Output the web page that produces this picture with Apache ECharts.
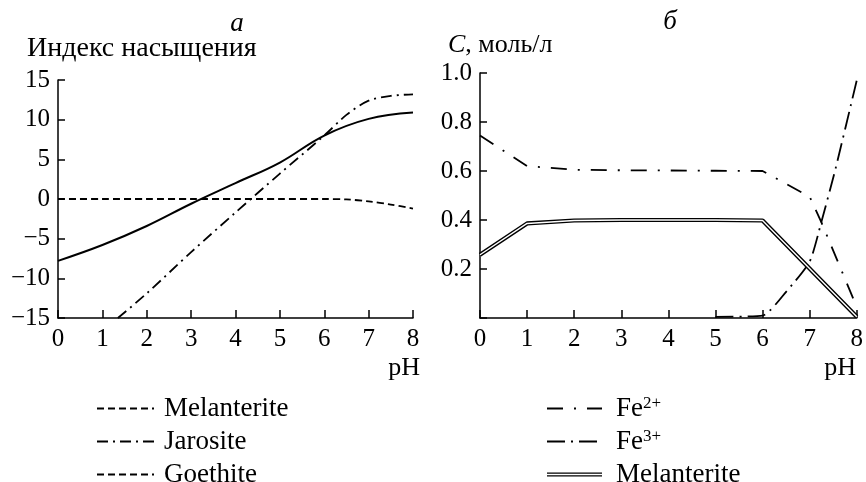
<!DOCTYPE html>
<html>
<head>
<meta charset="utf-8">
<script src="https://cdn.jsdelivr.net/npm/echarts@6/dist/echarts.min.js"></script>
<style>
  html, body { margin: 0; padding: 0; background: #fff; }
  #chart { width: 866px; height: 482px; }
</style>
</head>
<body>
<div id="chart"></div>
<script>
// panel a: saturation index vs pH
var goethitePh = [0, 1, 2, 3, 4, 5, 6, 7, 8];
var goethiteSI = [-7.8, -5.8, -3.4, -0.6, 2.0, 4.6, 8.0, 10.1, 10.9];
var melanteritePh = [0, 1, 2, 3, 4, 5, 6, 6.5, 7, 7.5, 8];
var melanteriteSI = [0, 0, 0, 0, 0, 0, 0, -0.05, -0.3, -0.7, -1.2];
var jarositePh = [1.35, 2, 3, 4, 5, 6, 6.5, 7, 7.5, 8];
var jarositeSI = [-15, -11.9, -6.7, -1.7, 3.2, 8.0, 10.6, 12.4, 13.0, 13.2];

// panel б: concentration vs pH
var fe2Ph = [0, 1, 2, 3, 4, 5, 6, 7, 7.25, 8];
var fe2C = [0.745, 0.62, 0.605, 0.603, 0.602, 0.601, 0.6, 0.495, 0.39, 0.045];
var fe3Ph = [5, 6, 6.5, 7, 7.25, 7.55, 8];
var fe3C = [0.005, 0.01, 0.107, 0.23, 0.393, 0.61, 0.97];
var melPh = [0, 1, 2, 3, 4, 5, 6, 8];
var melC = [0.258, 0.386, 0.398, 0.4, 0.4, 0.4, 0.398, 0.005];

function pairs(xs, ys) {
  return xs.map(function (x, i) { return [x, ys[i]]; });
}

var FONT = 'Liberation Serif';
var chart = echarts.init(document.getElementById('chart'));

function xAxisFor(gridIndex) {
  return {
    type: 'value', gridIndex: gridIndex, min: 0, max: 8, interval: 1,
    axisLine: { onZero: false, lineStyle: { color: '#000', width: 1.5 } },
    axisTick: { inside: true, length: 8, lineStyle: { color: '#000', width: 1.5 } },
    axisLabel: { color: '#000', fontFamily: FONT, fontSize: 25, margin: 9 },
    splitLine: { show: false }
  };
}

var legendText = {
  color: '#000', fontFamily: FONT, fontSize: 27, lineHeight: 26,
  rich: { s: { fontFamily: FONT, fontSize: 17, lineHeight: 17, verticalAlign: 'top', color: '#000' } }
};

var option = {
  animation: false,
  backgroundColor: '#fff',
  grid: [
    { left: 58, top: 80, width: 355, height: 238 },
    { left: 480, top: 73, width: 378, height: 245 }
  ],
  xAxis: [xAxisFor(0), xAxisFor(1)],
  yAxis: [
    {
      type: 'value', gridIndex: 0, min: -15, max: 15, interval: 5,
      axisLine: { show: true, onZero: false, lineStyle: { color: '#000', width: 1.5 } },
      axisTick: { show: true, inside: true, length: 7, lineStyle: { color: '#000', width: 1.5 } },
      axisLabel: {
        color: '#000', fontFamily: FONT, fontSize: 25, margin: 8,
        formatter: function (v) { return v < 0 ? '\u2212' + Math.abs(v) : String(v); }
      },
      splitLine: { show: false }
    },
    {
      type: 'value', gridIndex: 1, min: 0, max: 1, interval: 0.2,
      axisLine: { show: true, onZero: false, lineStyle: { color: '#000', width: 1.5 } },
      axisTick: { show: true, inside: true, length: 7, lineStyle: { color: '#000', width: 1.5 } },
      axisLabel: {
        color: '#000', fontFamily: FONT, fontSize: 25, margin: 8,
        formatter: function (v) { return v === 0 ? '' : v.toFixed(1); }
      },
      splitLine: { show: false }
    }
  ],
  legend: [
    {
      orient: 'vertical', left: 96, top: 395, height: 120, padding: 0, itemGap: 6,
      itemWidth: 57, itemHeight: 4, selectedMode: false,
      itemStyle: { opacity: 0 },
      textStyle: Object.assign({ padding: [0, 0, 0, 5] }, legendText),
      data: [
        { name: 'Melanterite' },
        { name: 'Jarosite' },
        { name: 'Goethite', lineStyle: { type: [7, 4], width: 1.8 } }
      ]
    },
    {
      orient: 'vertical', left: 546, top: 395, height: 120, padding: 0, itemGap: 6,
      itemWidth: 55, itemHeight: 4, selectedMode: false,
      itemStyle: { opacity: 0 },
      textStyle: Object.assign({ padding: [0, 0, 0, 9] }, legendText),
      formatter: function (name) {
        if (name === 'Fe2+') return 'Fe{s|2+}';
        if (name === 'Fe3+') return 'Fe{s|3+}';
        return 'Melanterite';
      },
      data: [
        { name: 'Fe2+' },
        { name: 'Fe3+' },
        {
          name: 'Melanterite б',
          icon: 'path://M0,0H55V1.3H0Z M0,2.7H55V4H0Z',
          itemStyle: { opacity: 1, color: '#000', borderWidth: 0 }
        }
      ]
    }
  ],
  graphic: [
    { type: 'text', x: 237, y: 24, style: { text: 'а', font: 'italic 27px ' + FONT, fill: '#000', align: 'center', verticalAlign: 'middle' } },
    { type: 'text', x: 670, y: 22, style: { text: 'б', font: 'italic 27px ' + FONT, fill: '#000', align: 'center', verticalAlign: 'middle' } },
    { type: 'text', x: 27, y: 49, style: { text: 'Индекс насыщения', font: '28px ' + FONT, fill: '#000', align: 'left', verticalAlign: 'middle' } },
    {
      type: 'text', x: 448, y: 45,
      style: {
        text: '{i|C}, моль/л', font: '26px ' + FONT, fill: '#000', align: 'left', verticalAlign: 'middle',
        rich: { i: { fontStyle: 'italic', fontFamily: FONT, fontSize: 26, fill: '#000' } }
      }
    },
    { type: 'text', x: 420, y: 368, style: { text: 'pH', font: '26px ' + FONT, fill: '#000', align: 'right', verticalAlign: 'middle' } },
    { type: 'text', x: 856, y: 368, style: { text: 'pH', font: '26px ' + FONT, fill: '#000', align: 'right', verticalAlign: 'middle' } }
  ],
  series: [
    {
      name: 'Melanterite', type: 'line', xAxisIndex: 0, yAxisIndex: 0, symbol: 'none', smooth: 0.3,
      lineStyle: { color: '#000', width: 1.8, type: [7, 4] },
      data: pairs(melanteritePh, melanteriteSI)
    },
    {
      name: 'Jarosite', type: 'line', xAxisIndex: 0, yAxisIndex: 0, symbol: 'none', smooth: 0.3,
      lineStyle: { color: '#000', width: 1.8, type: [11, 5, 2, 5] },
      data: pairs(jarositePh, jarositeSI)
    },
    {
      name: 'Goethite', type: 'line', xAxisIndex: 0, yAxisIndex: 0, symbol: 'none', smooth: 0.4,
      lineStyle: { color: '#000', width: 2 },
      data: pairs(goethitePh, goethiteSI)
    },
    {
      name: 'Fe2+', type: 'line', xAxisIndex: 1, yAxisIndex: 1, symbol: 'none',
      lineStyle: { color: '#000', width: 1.8, type: [16, 11, 2, 11] },
      data: pairs(fe2Ph, fe2C)
    },
    {
      name: 'Fe3+', type: 'line', xAxisIndex: 1, yAxisIndex: 1, symbol: 'none', smooth: 0.2,
      lineStyle: { color: '#000', width: 1.8, type: [18, 6, 2, 6] },
      data: pairs(fe3Ph, fe3C)
    },
    {
      name: 'Melanterite б', type: 'line', xAxisIndex: 1, yAxisIndex: 1, symbol: 'none',
      lineStyle: { color: '#000', width: 4.2 },
      data: pairs(melPh, melC)
    },
    {
      name: 'melanterite-core', type: 'line', xAxisIndex: 1, yAxisIndex: 1, symbol: 'none',
      lineStyle: { color: '#fff', width: 1.4 },
      data: pairs(melPh, melC)
    }
  ]
};

chart.setOption(option);
</script>
</body>
</html>
